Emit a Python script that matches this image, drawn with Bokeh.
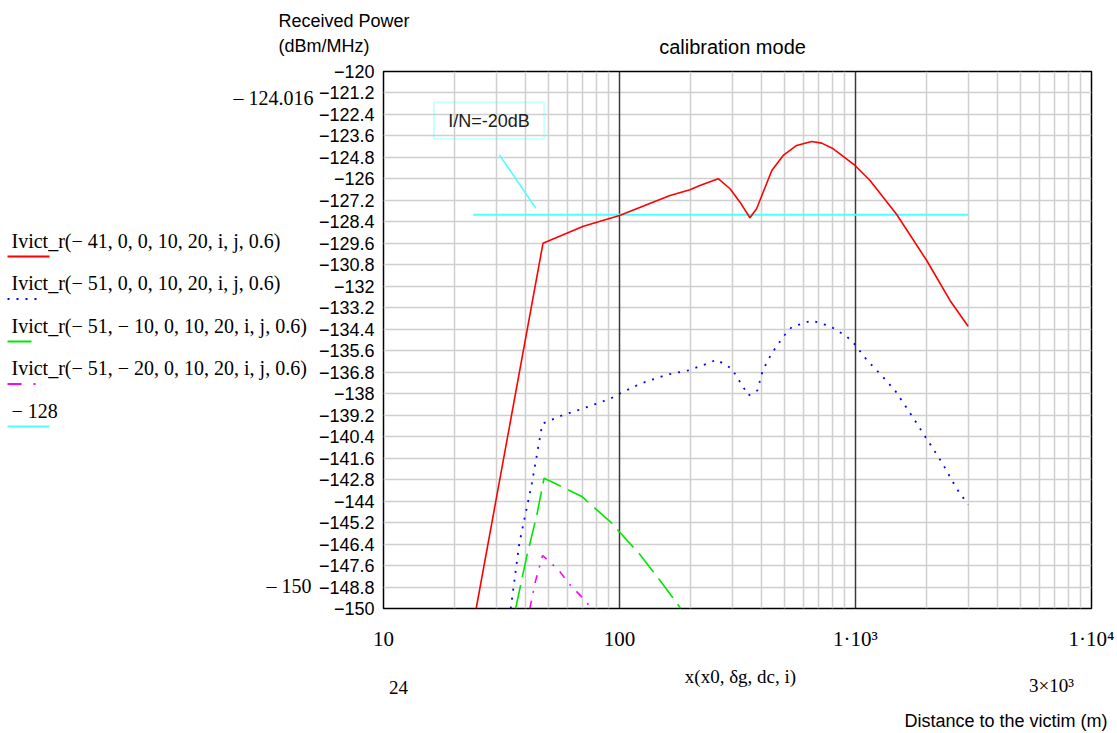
from bokeh.plotting import figure
from bokeh.layouts import column, row
from bokeh.models import Range1d, FixedTicker, Label, BoxAnnotation
from bokeh.core.properties import value
from bokeh.embed import file_html
from bokeh.resources import INLINE

# ---------------- data ----------------
red_x = [24.7, 47.4, 70.3, 100, 163.7, 199, 219, 262, 294, 324, 357, 381, 401, 442,
         494, 563, 652, 719, 805, 995, 1152, 1495, 2003, 2514, 3000]
red_y = [-150.0, -129.6, -128.64, -128.04, -126.93, -126.61, -126.37, -125.99, -126.55,
         -127.3, -128.17, -127.67, -126.93, -125.53, -124.69, -124.13, -123.91, -124.0,
         -124.32, -125.25, -126.09, -127.99, -130.56, -132.79, -134.23]

blue_x = [34.6, 37.6, 42.5, 47.1, 56.9, 69.2, 91.1, 100, 122, 158.5, 195.6, 234.2, 258,
          298.8, 352, 383.7, 404.5, 441.6, 499, 536.7, 652, 780, 917.7, 988, 1116, 1282,
          1470, 1730, 2003, 2342, 2685, 3000]
blue_y = [-150.0, -146.39, -143.03, -139.68, -139.22, -138.85, -138.29, -138.0, -137.45,
          -136.94, -136.7, -136.33, -136.1, -136.6, -138.1, -137.82, -136.7, -135.74,
          -134.75, -134.28, -133.91, -134.23, -134.8, -135.21, -136.11, -136.94, -137.82,
          -139.22, -140.52, -141.92, -143.31, -144.2]

green_x = [36.3, 40.4, 44.6, 47.9, 53.7, 69.2, 92.7, 100, 122, 156, 181.7]
green_y = [-150.0, -147.13, -144.8, -142.72, -143.03, -143.74, -145.23, -145.73, -146.98,
           -148.81, -150.0]

magenta_x = [41.7, 44.0, 47.2, 51.6, 55.6, 61.1, 72.6, 75.2]
magenta_y = [-150.0, -148.5, -147.04, -147.5, -147.9, -148.62, -149.64, -150.0]

threshold_x = [24, 3000]
threshold_y = [-128, -128]

x_ticks = [10, 100, 1000, 10000]
x_tick_labels = ["10", "100", "1\u00b710\u00b3", "1\u00b710\u2074"]
y_ticks = [-120, -121.2, -122.4, -123.6, -124.8, -126, -127.2, -128.4, -129.6, -130.8,
           -132, -133.2, -134.4, -135.6, -136.8, -138, -139.2, -140.4, -141.6, -142.8,
           -144, -145.2, -146.4, -147.6, -148.8, -150]
y_tick_labels = ["\u2212120", "\u2212121.2", "\u2212122.4", "\u2212123.6", "\u2212124.8",
                 "\u2212126", "\u2212127.2", "\u2212128.4", "\u2212129.6", "\u2212130.8",
                 "\u2212132", "\u2212133.2", "\u2212134.4", "\u2212135.6", "\u2212136.8",
                 "\u2212138", "\u2212139.2", "\u2212140.4", "\u2212141.6", "\u2212142.8",
                 "\u2212144", "\u2212145.2", "\u2212146.4", "\u2212147.6", "\u2212148.8",
                 "\u2212150"]

legend_labels = ["Ivict_r(\u2212 41, 0, 0, 10, 20, i, j, 0.6)",
                 "Ivict_r(\u2212 51, 0, 0, 10, 20, i, j, 0.6)",
                 "Ivict_r(\u2212 51, \u2212 10, 0, 10, 20, i, j, 0.6)",
                 "Ivict_r(\u2212 51, \u2212 20, 0, 10, 20, i, j, 0.6)",
                 "\u2212 128"]

# ---------------- styles ----------------
RED, BLUE, GREEN, MAGENTA, CYAN = "#ff0000", "#0000ff", "#00e600", "#ff00ff", "#4dffff"
SANS, SERIF = "Liberation Sans", "Liberation Serif"
W, H = 1117, 733
TOP_H, BOT_H, LEG_W = 56, 75, 314
MID_H = H - TOP_H - BOT_H
FRAME_TOP, FRAME_BOTTOM, FRAME_LEFT, FRAME_RIGHT = 71, 608, 383, 1091


def strip(width, height, x0, x1, y0, y1):
    f = figure(width=width, height=height, x_range=Range1d(x0, x1), y_range=Range1d(y0, y1),
               output_backend="svg", toolbar_location=None,
               x_axis_location=None, y_axis_location=None, min_border=0,
               min_border_left=0, min_border_right=0, min_border_top=0, min_border_bottom=0,
               background_fill_color="white", border_fill_color="white")
    f.outline_line_color = None
    f.xgrid.visible = False
    f.ygrid.visible = False
    return f


def put(f, text, x, y, size, font, align="left"):
    f.text(x=[x], y=[y], text=[text], text_font=value(font), text_font_size=value(size),
           text_align=align, text_baseline="middle", text_color="black")


# ---------------- main plot ----------------
p = figure(width=W - LEG_W, height=MID_H, x_axis_type="log",
           x_range=Range1d(10, 10000), y_range=Range1d(-150, -120),
           output_backend="svg", toolbar_location=None,
           min_border_left=FRAME_LEFT - LEG_W, min_border_right=W - FRAME_RIGHT,
           min_border_top=FRAME_TOP - TOP_H,
           min_border_bottom=TOP_H + MID_H - FRAME_BOTTOM,
           background_fill_color="white", border_fill_color="white")
p.outline_line_color = "black"
p.outline_line_width = 1.5

minor = [m * d for d in (10, 100, 1000) for m in range(2, 10)]
xt = FixedTicker(ticks=x_ticks, minor_ticks=minor)
yt = FixedTicker(ticks=y_ticks)
p.xaxis.ticker = xt
p.yaxis.ticker = yt
p.xgrid.ticker = xt
p.ygrid.ticker = yt
p.xaxis.major_label_overrides = dict(zip(x_ticks, x_tick_labels))
p.yaxis.major_label_overrides = dict(zip(y_ticks, y_tick_labels))

for ax in (p.xaxis[0], p.yaxis[0]):
    ax.axis_line_color = None
    ax.major_tick_line_color = None
    ax.minor_tick_line_color = None
    ax.major_tick_out = 0
    ax.major_tick_in = 0
    ax.minor_tick_out = 0
    ax.minor_tick_in = 0
    ax.major_label_text_color = "black"
p.xaxis.major_label_text_font = SERIF
p.xaxis.major_label_text_font_size = "21px"
p.xaxis.major_label_standoff = 18
p.yaxis.major_label_text_font = SANS
p.yaxis.major_label_text_font_size = "18px"
p.yaxis.major_label_standoff = 9

p.xgrid.grid_line_color = "#3a3a3a"
p.xgrid.grid_line_width = 1.5
p.xgrid.minor_grid_line_color = "#cfcfcf"
p.xgrid.minor_grid_line_width = 1.5
p.ygrid.grid_line_color = "#cfcfcf"
p.ygrid.grid_line_width = 1.5
xg, yg = p.xgrid[0], p.ygrid[0]
p.center = [yg, xg] + [r for r in p.center if r is not xg and r is not yg]

p.line(threshold_x, threshold_y, color=CYAN, line_width=2)
p.line(red_x, red_y, color=RED, line_width=1.6)
p.line(blue_x, blue_y, color=BLUE, line_width=1.8, line_dash="2 7")
p.line(green_x, green_y, color=GREEN, line_width=1.6, line_dash="24 8")
p.line(magenta_x, magenta_y, color=MAGENTA, line_width=1.6, line_dash="8 8 2 8")

# annotation "I/N=-20dB"
p.add_layout(BoxAnnotation(left=16.36, right=48.0, top=-121.72, bottom=-123.76,
                           fill_color=None, fill_alpha=0, line_color=CYAN, line_width=2))
p.add_layout(Label(x=28.0, y=-122.74, text="I/N=-20dB", text_align="center",
                   text_baseline="middle", text_font=SANS, text_font_size="18px",
                   text_color="#202020"))
p.segment(x0=[30.96], y0=[-124.65], x1=[44.2], y1=[-127.64], color=CYAN, line_width=1.5)

# ---------------- top strip (canvas pixel coordinates) ----------------
top = strip(W, TOP_H, 0, W, TOP_H, 0)
put(top, "Received Power", 278, 20, "18px", SANS)
put(top, "(dBm/MHz)", 278, 45, "18px", SANS)
put(top, "calibration mode", 732, 46, "20px", SANS, align="center")

# ---------------- legend strip (its frame is aligned with the main frame) -------
leg = strip(LEG_W, MID_H, 0, LEG_W, FRAME_BOTTOM, FRAME_TOP)
leg_colors = [RED, BLUE, GREEN, MAGENTA, CYAN]
leg_dash = ["solid", "2 7", "24 8", "14 12 2 8", "solid"]
leg_len = [42, 36, 30, 31, 42]
for i, (lab, c, d, ln) in enumerate(zip(legend_labels, leg_colors, leg_dash, leg_len)):
    ty = 240 + 42.5 * i
    put(leg, lab, 11, ty, "20px", SERIF)
    leg.line([7, 7 + ln], [ty + 16, ty + 16], color=c, line_width=2, line_dash=d)
put(leg, "\u2013 124.016", 313, 97, "20px", SERIF, align="right")
put(leg, "\u2013 150", 311, 585, "20px", SERIF, align="right")

# ---------------- bottom strip ----------------
bot = strip(W, BOT_H, 0, W, H, H - BOT_H)
put(bot, "24", 398, 687, "19px", SERIF, align="center")
put(bot, "x(x0, \u03b4g, dc, i)", 740, 676, "19px", SERIF, align="center")
put(bot, "3\u00d710\u00b3", 1051, 685, "19px", SERIF, align="center")
put(bot, "Distance to the victim (m)", 1107, 720, "18px", SANS, align="right")

layout = column(top, row(leg, p), bot)
open("out.html", "w").write(file_html(layout, INLINE))
